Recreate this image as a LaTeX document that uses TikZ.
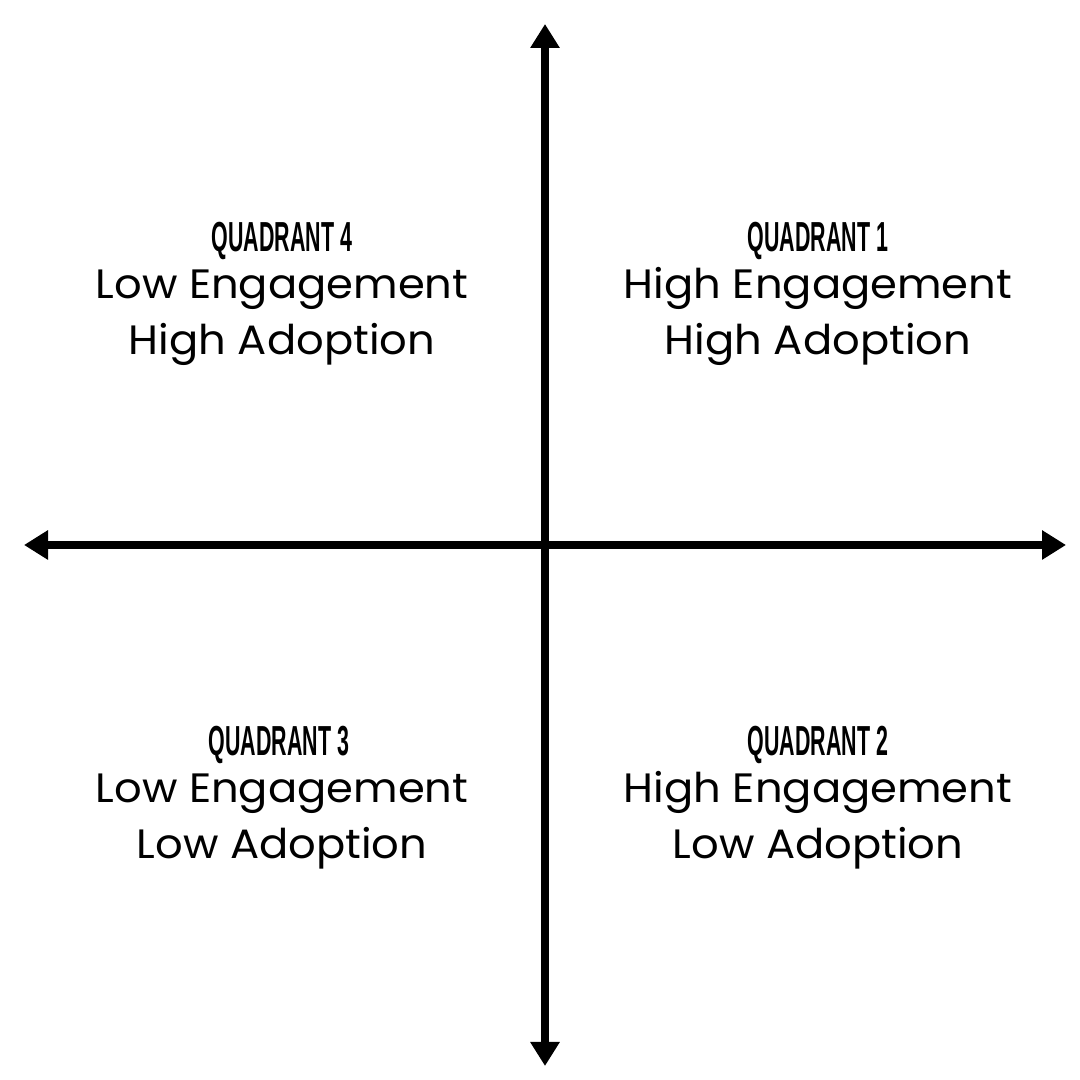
\documentclass[tikz,border=0pt]{standalone}
\usepackage{fontspec}
\setmainfont{Poppins}[FakeStretch=1.055]
\newfontfamily\titlefont{Liberation Sans}
\usetikzlibrary{arrows.meta}
\tikzset{
  axis/.style={line width=8pt, {Triangle[length=24pt,width=28pt]}-{Triangle[length=24pt,width=28pt]}},
  qtitle/.style={inner sep=0pt, anchor=base, font=\titlefont\bfseries\fontsize{42}{42}\selectfont},
  qbody/.style={inner sep=0pt, anchor=base, font=\fontsize{41}{56}\selectfont}
}
\newcommand{\qt}[1]{\scalebox{0.51}[1]{#1}}
\begin{document}
\begin{tikzpicture}[x=1pt,y=1pt]
\useasboundingbox (0,0) rectangle (1080,1080);
\fill[white] (0,0) rectangle (1080,1080);
\coordinate (top) at (545,1080-24);
\coordinate (bot) at (545,1080-1066);
\coordinate (lft) at (24,1080-545);
\coordinate (rgt) at (1066,1080-545);
\draw[axis] (bot) -- (top);
\draw[axis] (lft) -- (rgt);
% Quadrant 4
\node[qtitle] (t4) at (282,1080-252) {\qt{QUADRANT 4}};
\node[qbody] (b4a) at (282,1080-299) {Low Engagement};
\node[qbody] (b4b) at (282,1080-355) {High Adoption};
% Quadrant 1
\node[qtitle] (t1) at (818,1080-252) {\qt{QUADRANT 1}};
\node[qbody] (b1a) at (818,1080-299) {High Engagement};
\node[qbody] (b1b) at (818,1080-355) {High Adoption};
% Quadrant 3
\node[qtitle] (t3) at (279,1080-756) {\qt{QUADRANT 3}};
\node[qbody] (b3a) at (282,1080-803) {Low Engagement};
\node[qbody] (b3b) at (282,1080-859) {Low Adoption};
% Quadrant 2
\node[qtitle] (t2) at (818,1080-756) {\qt{QUADRANT 2}};
\node[qbody] (b2a) at (818,1080-803) {High Engagement};
\node[qbody] (b2b) at (818,1080-859) {Low Adoption};
\end{tikzpicture}
\end{document}
